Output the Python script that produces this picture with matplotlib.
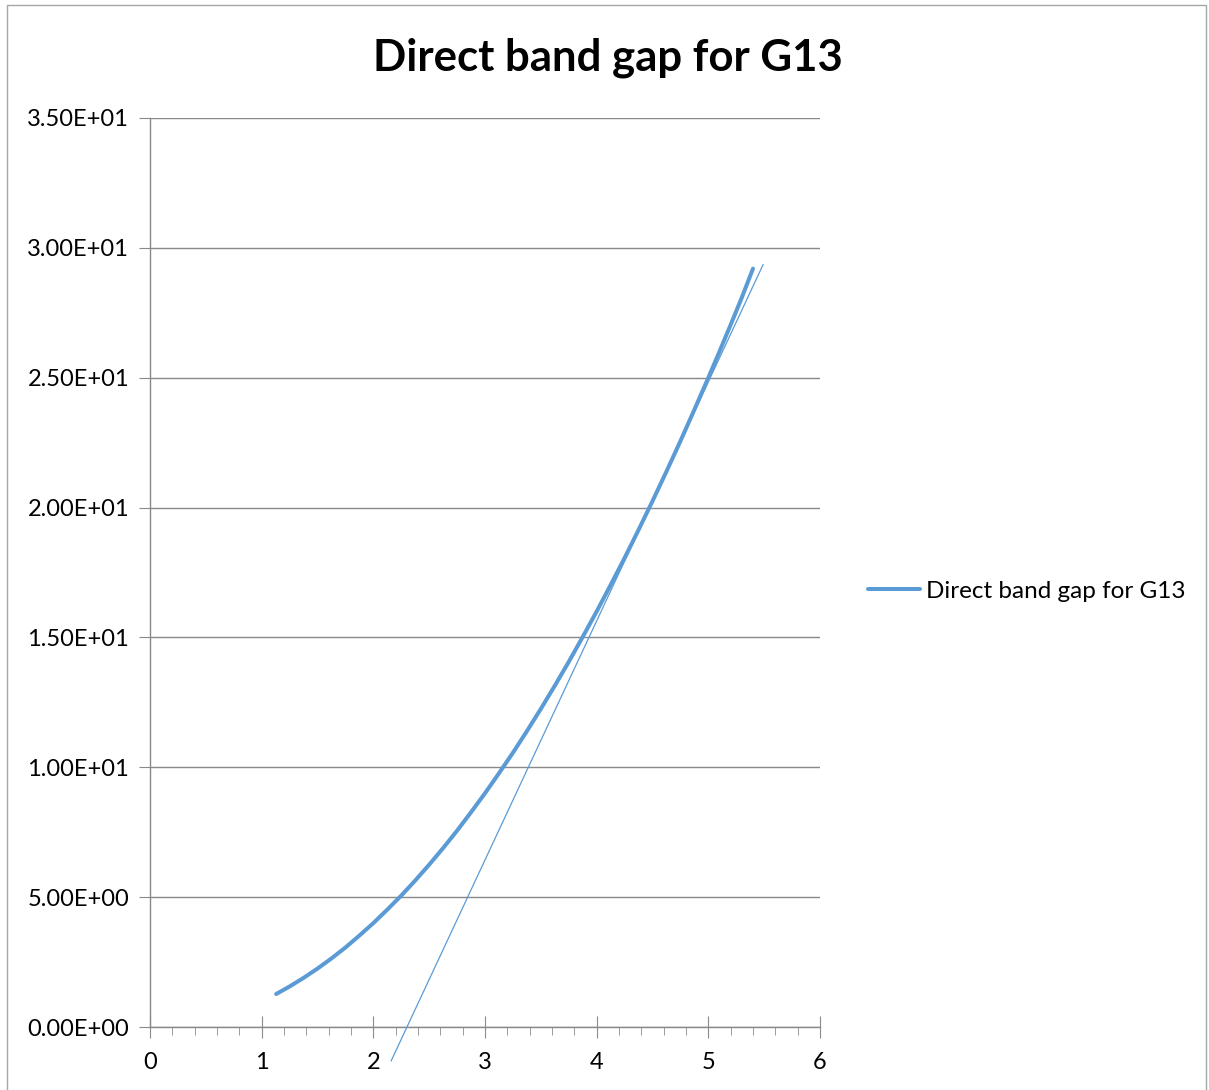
import matplotlib
matplotlib.use("Agg")
import matplotlib.pyplot as plt
from matplotlib.patches import Rectangle
from matplotlib.ticker import FixedLocator, FuncFormatter

plt.rcParams['font.family'] = ['Lato', 'DejaVu Sans']

# curve
energy = [1.13, 1.25, 1.375, 1.5, 1.625, 1.75, 1.875, 2.0, 2.125, 2.25,
          2.375, 2.5, 2.625, 2.75, 2.875, 3.0, 3.125, 3.25, 3.375, 3.5,
          3.625, 3.75, 3.875, 4.0, 4.125, 4.25, 4.375, 4.5, 4.625, 4.75,
          4.875, 5.0, 5.1, 5.2, 5.3, 5.4]
gap_sq = [1.27, 1.56, 1.89, 2.25, 2.64, 3.06, 3.52, 4.0, 4.52, 5.06,
          5.64, 6.25, 6.89, 7.56, 8.27, 9.0, 9.77, 10.56, 11.39, 12.25,
          13.14, 14.06, 15.02, 16.0, 17.02, 18.06, 19.14, 20.25, 21.39, 22.56,
          23.77, 25.0, 26.01, 27.04, 28.09, 29.2]
# tangent (trend) line end points
tan_x = [2.16, 5.49]
tan_y = [-1.3, 29.35]

series_name = "Direct band gap for G13"
title = "Direct band gap for G13"
blue = "#5B9BD5"
grid_c = "#898989"

fig = plt.figure(figsize=(12.09, 10.90), dpi=100)
ax = fig.add_axes([150 / 1209, 63 / 1090, 670 / 1209, 909 / 1090])

ax.plot(energy, gap_sq, color=blue, lw=2.9, solid_capstyle="round",
        label=series_name, zorder=3)
ax.plot(tan_x, tan_y, color=blue, lw=0.9, clip_on=False, zorder=3)

ax.set_xlim(0, 6)
ax.set_ylim(0, 35)
ax.yaxis.set_major_locator(FixedLocator([0, 5, 10, 15, 20, 25, 30, 35]))
ax.yaxis.set_major_formatter(FuncFormatter(lambda v, p: f"{v:.2E}"))
ax.xaxis.set_major_locator(FixedLocator(range(7)))
ax.xaxis.set_minor_locator(FixedLocator([i * 0.2 for i in range(31)]))
ax.grid(axis="y", color=grid_c, lw=1)
ax.set_axisbelow(True)
for s in ("top", "right"):
    ax.spines[s].set_visible(False)
for s in ("left", "bottom"):
    ax.spines[s].set_color(grid_c)
    ax.spines[s].set_linewidth(1)
ax.tick_params(axis="y", which="major", direction="out", length=8, color=grid_c,
               labelsize=17, pad=7)
ax.tick_params(axis="x", which="major", direction="inout", length=16, color=grid_c,
               labelsize=17, pad=10)
ax.tick_params(axis="x", which="minor", direction="out", length=6, color=grid_c)

fig.text(608 / 1209, 1 - 58 / 1090, title, ha="center", va="center",
         fontsize=31.5, fontweight="bold")

ax.legend(loc="center left", bbox_to_anchor=(846 / 1209, 1 - 591 / 1090),
          bbox_transform=fig.transFigure, frameon=False, fontsize=17.5,
          handlelength=2.15, handletextpad=0.25)

fig.patches.append(Rectangle((7 / 1209, -0.01), 1199 / 1209, 1 - 5 / 1090 + 0.01,
                             transform=fig.transFigure, fill=False,
                             edgecolor="#A6A6A6", lw=1))

fig.savefig("out.png", dpi=100)
